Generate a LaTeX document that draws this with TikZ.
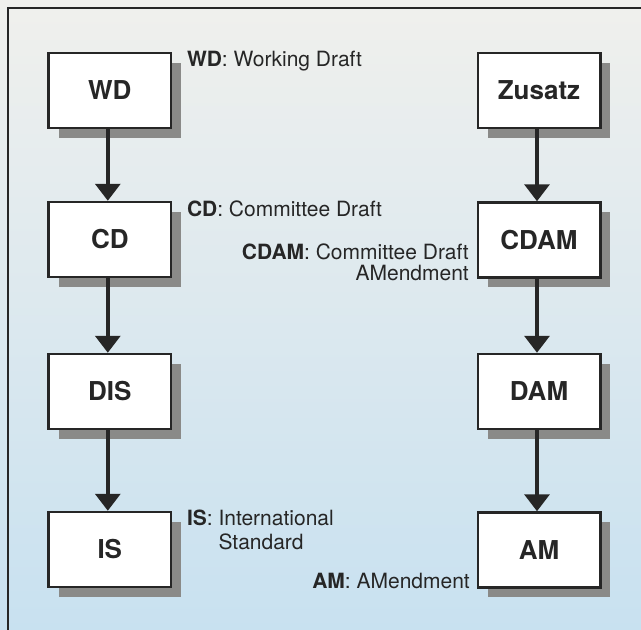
\documentclass[tikz,border=0pt]{standalone}
\usepackage{fontspec}
\setmainfont{TeX Gyre Heros}
\usetikzlibrary{arrows.meta,shadows}

\definecolor{ink}{RGB}{38,38,38}
\definecolor{shadowgray}{RGB}{138,138,136}
\definecolor{bgtop}{RGB}{240,240,237}
\definecolor{bgmid}{RGB}{226,236,240}
\definecolor{bgbot}{RGB}{200,225,240}

\tikzset{
  stage/.style={draw=ink, line width=2.5pt, fill=white,
    minimum width=122.5pt, minimum height=75pt, inner sep=0pt,
    text=ink, font=\fontsize{26}{30}\selectfont\bfseries,
    general shadow={fill=shadowgray, shadow xshift=10pt, shadow yshift=-9.5pt}},
  flow/.style={draw=ink, line width=3.5pt,
    -{Triangle[width=25pt,length=17pt]}},
  note/.style={text=ink, inner sep=0pt, font=\fontsize{21}{21}\selectfont},
  frame/.style={draw=ink, line width=2pt}
}

\begin{document}
\begin{tikzpicture}[x=1pt, y=-1pt]
  % paper background and frame
  \shade[top color=bgtop, middle color=bgmid, bottom color=bgbot]
    (0,0) rectangle (641,630);
  \useasboundingbox (0,0) rectangle (641,630);
  \coordinate (fa) at (641,8);
  \coordinate (fb) at (8,8);
  \coordinate (fc) at (8,630);
  \draw[frame] (fa) -- (fb) -- (fc);

  % standard track
  \node[stage] (WD)  at (109.8,90.5)  {WD};
  \node[stage] (CD)  at (109.8,239.5) {CD};
  \node[stage] (DIS) at (109.8,391.5) {DIS};
  \node[stage] (IS)  at (109.8,549.5) {IS};

  % amendment track
  \node[stage] (ZU)   at (539,90.5)  {Zusatz};
  \node[stage] (CDAM) at (539,240)   {CDAM};
  \node[stage] (DAM)  at (539,391.5) {DAM};
  \node[stage] (AM)   at (539,550)   {AM};

  \draw[flow] ([xshift=-2pt]WD.south) -- ([xshift=-2pt]CD.north);
  \draw[flow] ([xshift=-2pt]CD.south) -- ([xshift=-2pt]DIS.north);
  \draw[flow] ([xshift=-2pt]DIS.south) -- ([xshift=-2pt]IS.north);
  \draw[flow] ([xshift=-2pt]ZU.south) -- ([xshift=-2pt]CDAM.north);
  \draw[flow] ([xshift=-2pt]CDAM.south) -- ([xshift=-2pt]DAM.north);
  \draw[flow] ([xshift=-2pt]DAM.south) -- ([xshift=-2pt]AM.north);

  % abbreviations (multi-line notes are placed by their last baseline)
  \node[note, anchor=base west] (nWD) at (186.8,66) {\textbf{WD}: Working Draft};
  \node[note, anchor=base west] (nCD) at (186.8,216.7) {\textbf{CD}: Committee Draft};
  \node[note, anchor=base east, align=right] (nCDAM) at (469,280.5)
    {\textbf{CDAM}: Committee Draft\\AMendment};
  \node[note, anchor=base west, align=left,
        font=\fontsize{21}{23.3}\selectfont] (nIS) at (186.8,549)
    {\textbf{IS}: International\\\hphantom{\textbf{IS}: }Standard};
  \node[note, anchor=base east] (nAM) at (470,588.3) {\textbf{AM}: AMendment};
\end{tikzpicture}
\end{document}
